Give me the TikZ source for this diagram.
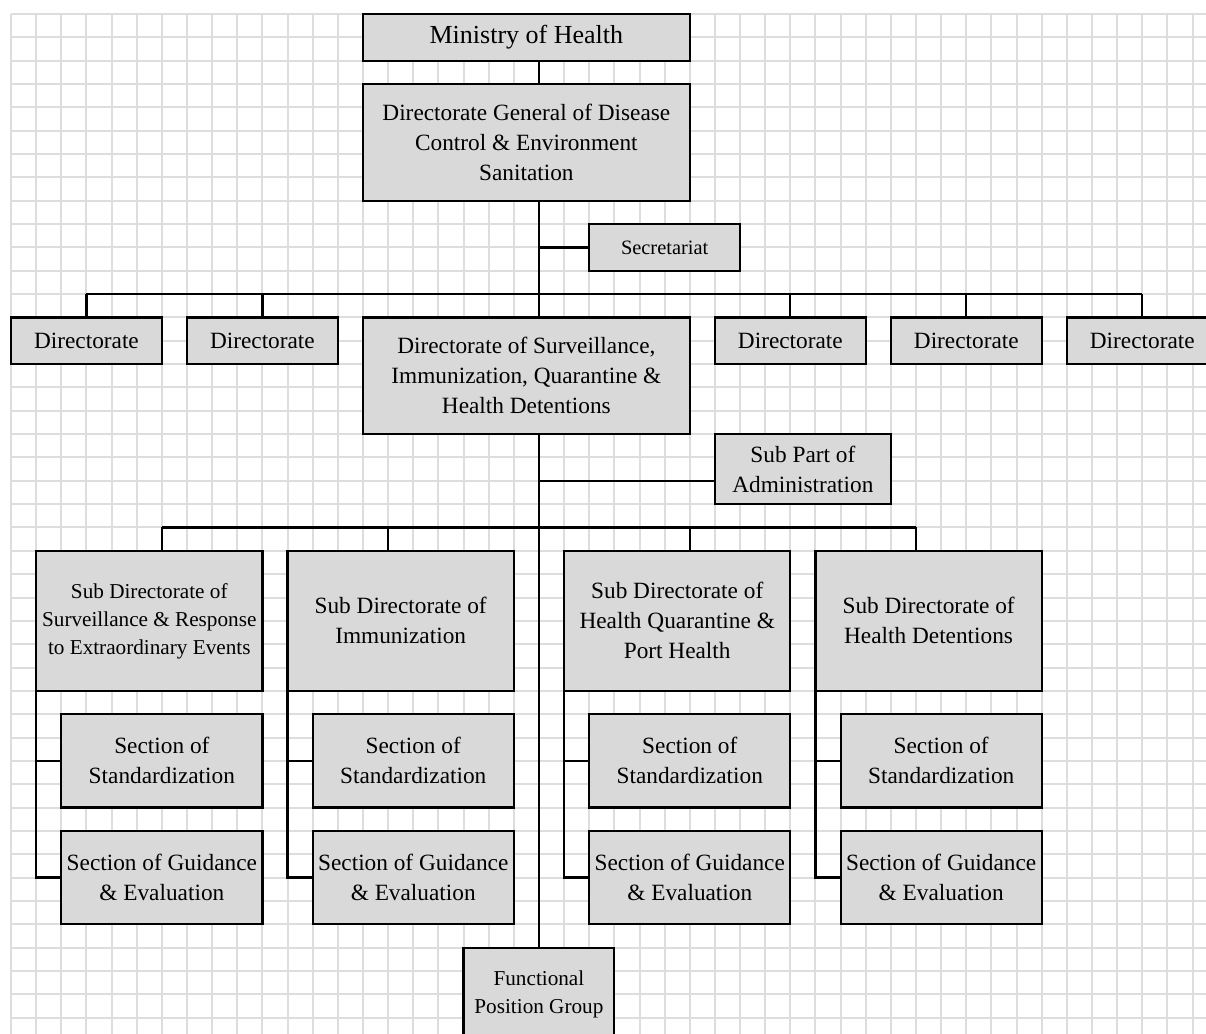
\documentclass[tikz,border=0pt]{standalone}
\usepackage{fontspec}
\setmainfont{Liberation Serif}
\definecolor{gridgray}{RGB}{221,221,223}
\definecolor{boxgray}{RGB}{217,217,217}

% place a box by its grid corners: name, k1, j1, k2, j2, text, extra style
\newcommand\orgnode[7]{%
  \pgfmathsetlengthmacro\orgw{(#4-#2)*12.57pt}%
  \pgfmathsetlengthmacro\orgh{(#5-#3)*11.67pt}%
  \node[box,minimum width=\orgw,minimum height=\orgh,#7] (#1) at ({(#2+#4)/2},{(#3+#5)/2}) {#6};}

\begin{document}
\begin{tikzpicture}[x=12.57pt,y=-11.67pt,
  gridline/.style={draw=gridgray,line width=1pt},
  box/.style={draw=black,fill=boxgray,line width=1.1pt,inner sep=0pt,outer sep=0pt,
    align=center,font=\fontsize{11.65}{15}\selectfont},
  link/.style={draw=black,line width=1.1pt},
  bigtext/.style={font=\fontsize{13}{16}\selectfont},
  smalltext/.style={font=\fontsize{10.6}{14}\selectfont},
  tinytext/.style={font=\fontsize{10.2}{13}\selectfont}]
\useasboundingbox (-0.4375,-0.5998) rectangle (47.534,43.70);

% squared paper
\foreach \k in {0,...,47} \draw[gridline] (\k,0) -- (\k,43.70);
\foreach \j in {0,...,43} \draw[gridline] (0,\j) -- (47.534,\j);

% top levels
\orgnode{mh}{14}{0}{27}{2}{Ministry of Health}{bigtext}
\orgnode{dg}{14}{3}{27}{8}{Directorate General of Disease\\Control \& Environment\\Sanitation}{}
\orgnode{sec}{23}{9}{29}{11}{Secretariat}{tinytext}

% directorates
\orgnode{d1}{0}{13}{6}{15}{Directorate}{}
\orgnode{d2}{7}{13}{13}{15}{Directorate}{}
\orgnode{dsi}{14}{13}{27}{18}{Directorate of Surveillance,\\Immunization, Quarantine \&\\Health Detentions}{}
\orgnode{d4}{28}{13}{34}{15}{Directorate}{}
\orgnode{d5}{35}{13}{41}{15}{Directorate}{}
\orgnode{d6}{42}{13}{48}{15}{Directorate}{}
\orgnode{sp}{28}{18}{35}{21}{Sub Part of\\Administration}{}

% sub directorates
\orgnode{sd1}{1}{23}{10}{29}{Sub Directorate of\\Surveillance \& Response\\to Extraordinary Events}{smalltext}
\orgnode{sd2}{11}{23}{20}{29}{Sub Directorate of\\Immunization}{}
\orgnode{sd3}{22}{23}{31}{29}{Sub Directorate of\\Health Quarantine \&\\Port Health}{}
\orgnode{sd4}{32}{23}{41}{29}{Sub Directorate of\\Health Detentions}{}

% sections
\orgnode{ss1}{2}{30}{10}{34}{Section of\\Standardization}{}
\orgnode{sg1}{2}{35}{10}{39}{Section of Guidance\\\& Evaluation}{}
\orgnode{ss2}{12}{30}{20}{34}{Section of\\Standardization}{}
\orgnode{sg2}{12}{35}{20}{39}{Section of Guidance\\\& Evaluation}{}
\orgnode{ss3}{23}{30}{31}{34}{Section of\\Standardization}{}
\orgnode{sg3}{23}{35}{31}{39}{Section of Guidance\\\& Evaluation}{}
\orgnode{ss4}{33}{30}{41}{34}{Section of\\Standardization}{}
\orgnode{sg4}{33}{35}{41}{39}{Section of Guidance\\\& Evaluation}{}

\orgnode{fpg}{18}{40}{24}{44}{Functional\\Position Group}{smalltext}

% main spine
\coordinate (spine) at (21,0);
\draw[link] (mh.south -| spine) -- (dg.north -| spine);
\draw[link] (dg.south -| spine) -- (dsi.north -| spine);
\draw[link] (dsi.south -| spine) -- (fpg.north -| spine);
\draw[link] (sec.west) -- (sec.west -| spine);

% directorate bus
\coordinate (dbL) at (3,12);
\coordinate (dbR) at (45,12);
\draw[link] (dbL) -- (dbR);
\foreach \n/\k in {d1/3,d2/10,d4/31,d5/38,d6/45}{
  \coordinate (dt) at (\k,12);
  \draw[link] (dt) -- (dt |- \n.north);
}

% sub part of administration
\coordinate (spj) at (21,20);
\draw[link] (spj) -- (spj -| sp.west);

% sub directorate bus
\coordinate (sbL) at (6,22);
\coordinate (sbR) at (36,22);
\draw[link] (sbL) -- (sbR);
\foreach \n/\k in {sd1/6,sd2/15,sd3/27,sd4/36}{
  \coordinate (st) at (\k,22);
  \draw[link] (st) -- (st |- \n.north);
}

% sections hang from each sub directorate
\foreach \i in {1,2,3,4}{
  \draw[link] (sd\i.south west) |- (sg\i.west);
  \draw[link] (sd\i.south west |- ss\i.west) -- (ss\i.west);
}
\end{tikzpicture}
\end{document}
